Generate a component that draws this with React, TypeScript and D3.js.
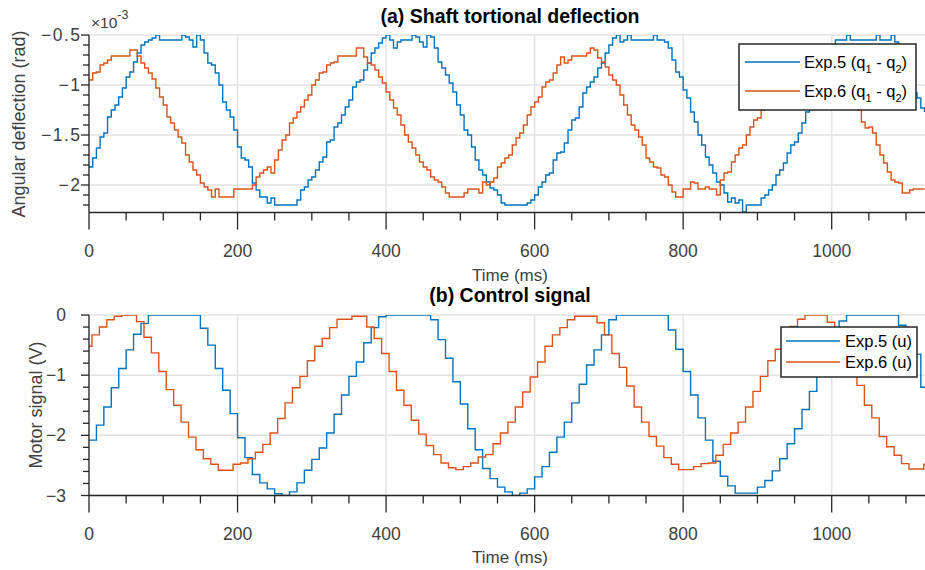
import React from 'react'
import * as d3 from 'd3'

// shaft deflection (x1e-3 rad), sampled every 5 ms from 0 to 1125 ms
const deflTime = d3.range(0, 1126, 5)
const exp5Defl = [
  -1.82, -1.73, -1.63, -1.52, -1.48, -1.32, -1.25, -1.2, -1.12, -1.03,
  -0.92, -0.87, -0.77, -0.68, -0.6, -0.57, -0.55, -0.53, -0.5, -0.55,
  -0.55, -0.55, -0.55, -0.55, -0.55, -0.5, -0.52, -0.55, -0.62, -0.5,
  -0.55, -0.68, -0.78, -0.8, -0.88, -1, -1.17, -1.25, -1.32, -1.45,
  -1.62, -1.73, -1.75, -1.82, -1.98, -2.05, -2.12, -2.12, -2.18, -2.13,
  -2.2, -2.2, -2.2, -2.2, -2.2, -2.2, -2.15, -2.05, -2.02, -1.95,
  -1.92, -1.85, -1.77, -1.72, -1.57, -1.55, -1.42, -1.38, -1.3, -1.22,
  -1.15, -1.02, -0.97, -0.95, -0.85, -0.78, -0.68, -0.63, -0.58, -0.53,
  -0.5, -0.55, -0.63, -0.57, -0.55, -0.55, -0.55, -0.5, -0.52, -0.57,
  -0.62, -0.5, -0.52, -0.63, -0.77, -0.83, -0.9, -0.98, -1.07, -1.2,
  -1.3, -1.45, -1.5, -1.62, -1.75, -1.85, -1.9, -1.97, -2.03, -2.05,
  -2.1, -2.18, -2.2, -2.2, -2.2, -2.2, -2.2, -2.2, -2.18, -2.15,
  -2.1, -2.02, -1.97, -1.9, -1.88, -1.75, -1.68, -1.67, -1.58, -1.45,
  -1.35, -1.33, -1.22, -1.08, -1.02, -0.97, -0.92, -0.83, -0.78, -0.68,
  -0.6, -0.53, -0.5, -0.57, -0.55, -0.5, -0.55, -0.55, -0.55, -0.55,
  -0.55, -0.55, -0.5, -0.55, -0.55, -0.57, -0.63, -0.75, -0.87, -0.92,
  -1.05, -1.13, -1.27, -1.37, -1.5, -1.6, -1.72, -1.8, -1.88, -1.97,
  -2, -2.08, -2.17, -2.13, -2.18, -2.15, -2.27, -2.2, -2.2, -2.2,
  -2.2, -2.13, -2.1, -2.05, -2, -1.9, -1.85, -1.78, -1.68, -1.6,
  -1.57, -1.48, -1.38, -1.27, -1.22, -1.1, -1, -0.88, -0.78, -0.68,
  -0.6, -0.55, -0.55, -0.55, -0.5, -0.55, -0.55, -0.55, -0.55, -0.55,
  -0.55, -0.55, -0.5, -0.55, -0.55, -0.55, -0.5, -0.57, -0.63, -0.78,
  -0.88, -0.98, -1.08, -1.13, -1.23, -1.27,
]
const exp6Defl = [
  -0.95, -0.88, -0.87, -0.8, -0.78, -0.75, -0.71, -0.71, -0.71, -0.71,
  -0.71, -0.65, -0.65, -0.71, -0.78, -0.83, -0.88, -0.94, -1.03, -1.12,
  -1.2, -1.32, -1.38, -1.45, -1.52, -1.58, -1.7, -1.77, -1.85, -1.9,
  -1.98, -2.02, -2.05, -2.12, -2.04, -2.12, -2.12, -2.12, -2.12, -2.04,
  -2.04, -2.04, -2.04, -2.04, -2, -1.92, -1.88, -1.85, -1.82, -1.88,
  -1.75, -1.65, -1.55, -1.5, -1.38, -1.33, -1.27, -1.22, -1.15, -1.1,
  -1, -0.95, -0.88, -0.87, -0.8, -0.78, -0.77, -0.71, -0.71, -0.71,
  -0.71, -0.71, -0.63, -0.63, -0.72, -0.78, -0.8, -0.85, -0.92, -0.98,
  -1.07, -1.15, -1.23, -1.3, -1.4, -1.5, -1.57, -1.63, -1.7, -1.77,
  -1.82, -1.85, -1.92, -1.95, -1.97, -2.02, -2.08, -2.12, -2.12, -2.12,
  -2.12, -2.08, -2.04, -2.04, -2.04, -2.08, -1.97, -2, -1.97, -1.93,
  -1.82, -1.78, -1.73, -1.7, -1.6, -1.53, -1.48, -1.4, -1.3, -1.22,
  -1.17, -1.12, -1.02, -0.97, -0.95, -0.88, -0.8, -0.72, -0.78, -0.75,
  -0.71, -0.71, -0.71, -0.71, -0.68, -0.63, -0.65, -0.73, -0.77, -0.82,
  -0.9, -0.95, -1, -1.1, -1.2, -1.3, -1.4, -1.45, -1.52, -1.6,
  -1.73, -1.77, -1.82, -1.83, -1.9, -1.92, -2, -2.07, -2.12, -2.12,
  -2.04, -2.04, -1.97, -1.98, -2.04, -2.04, -2.02, -2.04, -2.04, -2.1,
  -1.95, -1.88, -1.87, -1.77, -1.7, -1.63, -1.6, -1.5, -1.42, -1.35,
  -1.33, -1.25, -1.18, -1.12, -1.03, -0.97, -0.93, -0.87, -0.8, -0.75,
  -0.73, -0.71, -0.71, -0.71, -0.71, -0.71, -0.65, -0.63, -0.68, -0.73,
  -0.78, -0.83, -0.9, -0.95, -1, -1.07, -1.12, -1.25, -1.37, -1.43,
  -1.42, -1.48, -1.6, -1.7, -1.78, -1.87, -1.95, -1.97, -1.98, -2.08,
  -2.08, -2.05, -2.04, -2.04, -2.04, -2.04,
]

// control signal (V), held between updates
const exp5U = [
  -2.08, -1.83, -1.53, -1.21, -0.89, -0.58, -0.32, -0.14, 0, 0,
  0, 0, 0, 0, 0, -0.22, -0.5, -0.89, -1.25, -1.64,
  -2.04, -2.37, -2.65, -2.79, -2.89, -2.97, -3, -2.94, -2.79, -2.58,
  -2.4, -2.21, -1.96, -1.65, -1.33, -1.02, -0.78, -0.46, -0.21, -0.03,
  0, 0, 0, 0, 0, 0, -0.08, -0.41, -0.72, -1.11,
  -1.48, -1.89, -2.24, -2.55, -2.72, -2.86, -2.94, -3, -2.96, -2.89,
  -2.69, -2.52, -2.28, -2.03, -1.78, -1.46, -1.15, -0.83, -0.58, -0.33,
  -0.08, 0, 0, 0, 0, 0, 0, 0, -0.25, -0.57,
  -0.94, -1.33, -1.71, -2.08, -2.43, -2.68, -2.84, -2.96, -2.96, -2.96,
  -2.86, -2.75, -2.59, -2.39, -2.14, -1.89, -1.57, -1.27, -0.98, -0.68,
  -0.4, -0.1, 0, 0, 0, 0, 0, 0, 0, -0.17,
  -0.4, -0.65, -1.2,
]
const exp6U = [
  -0.52,
  -0.33, -0.2, -0.08, -0.02, 0, 0, -0.11, -0.37, -0.63, -0.94,
  -1.24, -1.5, -1.78, -2.03, -2.24, -2.39, -2.48, -2.58, -2.58, -2.48,
  -2.46, -2.39, -2.28, -2.15, -1.96, -1.72, -1.46, -1.21, -1.02, -0.76,
  -0.52, -0.39, -0.21, -0.07, -0.07, -0.02, -0.02, -0.2, -0.39, -0.64,
  -0.94, -1.25, -1.5, -1.75, -1.98, -2.17, -2.32, -2.46, -2.54, -2.57,
  -2.52, -2.46, -2.36, -2.32, -2.14, -1.96, -1.78, -1.53, -1.28, -1.03,
  -0.78, -0.52, -0.33, -0.21, -0.08, -0.02, -0.02, -0.02, -0.13, -0.33,
  -0.64, -0.87, -1.18, -1.53, -1.78, -2.02, -2.18, -2.37, -2.48, -2.57,
  -2.57, -2.52, -2.47, -2.46, -2.33, -2.15, -1.96, -1.78, -1.53, -1.27,
  -1.02, -0.76, -0.57, -0.37, -0.19, -0.07, 0, 0, 0, -0.12,
  -0.33, -0.6, -0.88, -1.17, -1.5, -1.71, -2.02, -2.19, -2.33, -2.47,
  -2.56, -2.56, -2.48,
]
const exp5UTime = exp5U.map((_, i) => i * 10)
const exp6UTime = exp6U.map((_, i) => (i === 0 ? 0 : 4 + (i - 1) * 10))

const xTicks = [0, 200, 400, 600, 800, 1000]
const yTicksTop = [-2, -1.5, -1, -0.5]
const yTickLabelsTop = ['-2', '-1.5', '-1', '-0.5']
const yTicksBottom = [-3, -2, -1, 0]
const yTickLabelsBottom = ['-3', '-2', '-1', '0']

const W = 925
const H = 570
const FONT = '"Liberation Sans", Arial, Helvetica, sans-serif'
const BLUE = '#0072BD'
const ORANGE = '#D95319'
const AXIS = '#262626'
const TICKTXT = '#404040'
const GRID = '#e2e2e2'

// axes run a little past the right edge of the picture
const x = d3.scaleLinear().domain([0, 1133.7]).range([89, 931])
const yTop = d3.scaleLinear().domain([-2.275, -0.5]).range([212.5, 35])
const yBot = d3.scaleLinear().domain([-3, 0]).range([495.5, 315])
const midX = (x.range()[0] + x.range()[1]) / 2

type Pt = [number, number]

function TickText(props: { label: string; x: number; y: number; anchor: string; spread?: number }) {
  const sp = props.spread || 0
  return (
    <text
      x={props.x + (props.anchor === 'end' ? sp : 0)}
      y={props.y}
      textAnchor={props.anchor}
      fontSize={17.5}
      fill={TICKTXT}
      letterSpacing={sp}
    >
      {props.label.replace('-', '\u2212')}
    </text>
  )
}

function Panel(props: {
  y: d3.ScaleLinear<number, number>
  yTicks: number[]
  yLabels: string[]
  yMinor: number[]
  xMinor: number[]
  yLabelRight: number
  ySpread: number
  id: string
  children: React.ReactNode
}) {
  const { y, yTicks, yLabels, yMinor, xMinor, id } = props
  const [y0, y1] = y.range()
  const x0 = x.range()[0]
  return (
    <g>
      <defs>
        <clipPath id={id}>
          <rect x={x0} y={y1} width={W - x0} height={y0 - y1} />
        </clipPath>
      </defs>
      {xTicks.map(t => (
        <line key={'gx' + t} x1={x(t)} x2={x(t)} y1={y0} y2={y1} stroke={GRID} strokeWidth={1.5} />
      ))}
      {yTicks.map(t => (
        <line key={'gy' + t} x1={x0} x2={W} y1={y(t)} y2={y(t)} stroke={GRID} strokeWidth={1.5} />
      ))}
      <g clipPath={`url(#${id})`}>{props.children}</g>
      <line x1={x0} x2={W} y1={y0} y2={y0} stroke={AXIS} strokeWidth={1.3} />
      <line x1={x0} x2={x0} y1={y0} y2={y1} stroke={AXIS} strokeWidth={1.3} />
      {xTicks.map(t => (
        <line key={'tx' + t} x1={x(t)} x2={x(t)} y1={y0} y2={y0 + 17} stroke={AXIS} strokeWidth={1.3} />
      ))}
      {xMinor.map(t => (
        <line key={'mx' + t} x1={x(t)} x2={x(t)} y1={y0} y2={y0 + 8} stroke={AXIS} strokeWidth={1.3} />
      ))}
      {yTicks.map(t => (
        <line key={'ty' + t} x1={x0 - 8} x2={x0} y1={y(t)} y2={y(t)} stroke={AXIS} strokeWidth={1.3} />
      ))}
      {yMinor.map(t => (
        <line key={'my' + t} x1={x0 - 6} x2={x0} y1={y(t)} y2={y(t)} stroke={AXIS} strokeWidth={1.3} />
      ))}
      {xTicks.map(t => (
        <TickText key={'lx' + t} label={String(t)} x={x(t)} y={y0 + 44} anchor="middle" />
      ))}
      {yTicks.map((t, i) => (
        <TickText
          key={'ly' + t}
          label={yLabels[i]}
          x={props.yLabelRight}
          y={y(t) + 6}
          anchor="end"
          spread={props.ySpread}
        />
      ))}
    </g>
  )
}

function SubLabel(props: { x: number; y: number; name: string }) {
  return (
    <text x={props.x} y={props.y} fontSize={16.5} fill="#000">
      {props.name} (q<tspan fontSize={11} dy={5}>1</tspan>
      <tspan dy={-5}> - q</tspan>
      <tspan fontSize={11} dy={5}>2</tspan>
      <tspan dy={-5}>)</tspan>
    </text>
  )
}

export default function App() {
  const lineTop = d3
    .line<Pt>()
    .x(d => x(d[0]))
    .y(d => yTop(d[1]))
    .curve(d3.curveStepAfter)
  const lineBot = d3
    .line<Pt>()
    .x(d => x(d[0]))
    .y(d => yBot(d[1]))
    .curve(d3.curveStepAfter)

  const d5: Pt[] = deflTime.map((t, i) => [t, exp5Defl[i]])
  const d6: Pt[] = deflTime.map((t, i) => [t, exp6Defl[i]])
  const xEnd = x.domain()[1]
  const u5: Pt[] = exp5UTime.map((t, i) => [t, exp5U[i]] as Pt).concat([[xEnd, exp5U[exp5U.length - 1]]])
  const u6: Pt[] = exp6UTime.map((t, i) => [t, exp6U[i]] as Pt).concat([[xEnd, exp6U[exp6U.length - 1]]])

  const xMinor = d3.range(50, 1125, 50).filter(t => t % 200 !== 0)
  const yMinorTop = d3.range(-2.2, -0.55, 0.1).filter(v => Math.abs(v * 2 - Math.round(v * 2)) > 0.01)
  const yMinorBot = d3.range(-2.8, -0.1, 0.2).filter(v => Math.abs(v - Math.round(v)) > 0.01)

  return (
    <svg
      width={W}
      height={H}
      style={{ position: 'absolute', left: 0, top: 0, background: '#fff' }}
      fontFamily={FONT}
    >
      <rect width={W} height={H} fill="#fff" />

      {/* (a) */}
      <Panel
        y={yTop}
        yTicks={yTicksTop}
        yLabels={yTickLabelsTop}
        yMinor={yMinorTop}
        xMinor={xMinor}
        yLabelRight={80}
        ySpread={1.5}
        id="clipA"
      >
        <path d={lineTop(d5) || ''} fill="none" stroke={BLUE} strokeWidth={1.4} />
        <path d={lineTop(d6) || ''} fill="none" stroke={ORANGE} strokeWidth={1.4} />
      </Panel>
      <text x={midX} y={22.5} textAnchor="middle" fontSize={19.5} fontWeight="bold" fill="#000">
        (a) Shaft tortional deflection
      </text>
      <text x={91} y={28} fontSize={15.5} fill={TICKTXT}>
        ×10<tspan fontSize={12.5} dy={-9}>-3</tspan>
      </text>
      <text x={midX} y={281} textAnchor="middle" fontSize={17} fill={TICKTXT}>
        Time (ms)
      </text>
      <text transform="translate(25,124) rotate(-90)" textAnchor="middle" fontSize={18} fill={TICKTXT}>
        Angular deflection (rad)
      </text>
      <g>
        <rect x={739} y={44} width={177} height={66} fill="#fff" stroke="#262626" strokeWidth={1.5} />
        <line x1={745} x2={800} y1={62} y2={62} stroke={BLUE} strokeWidth={1.4} />
        <line x1={745} x2={800} y1={91} y2={91} stroke={ORANGE} strokeWidth={1.4} />
        <SubLabel x={804} y={68} name="Exp.5" />
        <SubLabel x={804} y={97} name="Exp.6" />
      </g>

      {/* (b) */}
      <Panel
        y={yBot}
        yTicks={yTicksBottom}
        yLabels={yTickLabelsBottom}
        yMinor={yMinorBot}
        xMinor={xMinor}
        yLabelRight={66}
        ySpread={0}
        id="clipB"
      >
        <path d={lineBot(u5) || ''} fill="none" stroke={BLUE} strokeWidth={1.4} />
        <path d={lineBot(u6) || ''} fill="none" stroke={ORANGE} strokeWidth={1.4} />
      </Panel>
      <text x={midX} y={302} textAnchor="middle" fontSize={19.5} fontWeight="bold" fill="#000">
        (b) Control signal
      </text>
      <text x={midX} y={563} textAnchor="middle" fontSize={17} fill={TICKTXT}>
        Time (ms)
      </text>
      <text transform="translate(41.5,405) rotate(-90)" textAnchor="middle" fontSize={18} fill={TICKTXT}>
        Motor signal (V)
      </text>
      <g>
        <rect x={781} y={327} width={136} height={50} fill="#fff" stroke="#262626" strokeWidth={1.5} />
        <line x1={786} x2={840} y1={341} y2={341} stroke={BLUE} strokeWidth={1.4} />
        <line x1={786} x2={840} y1={362} y2={362} stroke={ORANGE} strokeWidth={1.4} />
        <text x={845} y={347} fontSize={16.5} fill="#000">Exp.5 (u)</text>
        <text x={845} y={368} fontSize={16.5} fill="#000">Exp.6 (u)</text>
      </g>
    </svg>
  )
}
